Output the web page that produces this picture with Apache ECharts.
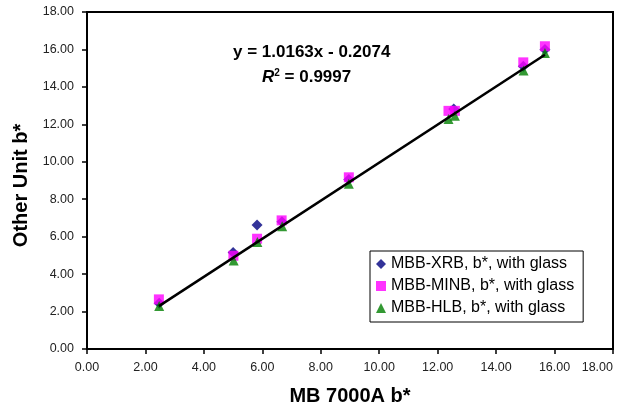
<!DOCTYPE html>
<html>
<head>
<meta charset="utf-8">
<script src="https://cdn.jsdelivr.net/npm/echarts@6/dist/echarts.min.js"></script>
<style>
  html, body { margin: 0; padding: 0; background: #fff; }
  #chart { width: 623px; height: 409px; }
</style>
</head>
<body>
<div id="chart"></div>
<script>
// [x, y] pairs
var xrb = [[2.47, 2.45], [5.00, 5.16], [5.82, 6.62], [6.67, 6.80], [8.96, 9.05], [12.55, 12.82], [14.93, 15.10], [15.67, 16.00]]
var minb = [[2.46, 2.65], [5.01, 4.98], [5.82, 5.89], [6.66, 6.87], [8.96, 9.17], [12.37, 12.72], [12.59, 12.72], [14.93, 15.31], [15.67, 16.17]]
var hlb = [[2.47, 2.30], [5.02, 4.73], [5.83, 5.72], [6.68, 6.55], [8.96, 8.83], [12.37, 12.29], [12.59, 12.46], [14.94, 14.88], [15.67, 15.81]]
var trend = [[2.46, 2.29], [15.67, 15.72]]
var names = ['MBB-XRB, b*, with glass', 'MBB-MINB, b*, with glass', 'MBB-HLB, b*, with glass']

var myChart = echarts.init(document.getElementById('chart'))

var axisCommon = {
    type: 'value',
    min: 0,
    max: 18,
    interval: 2,
    axisLine: { show: true, onZero: false, lineStyle: { color: '#000', width: 2 } },
    axisTick: { show: true, inside: false, length: 5, lineStyle: { color: '#000', width: 1.5 } },
    splitLine: { show: false },
    axisLabel: {
        fontFamily: 'Arial, sans-serif',
        fontSize: 12.5,
        color: '#222',
        formatter: function (v) { return v.toFixed(2) }
    },
    nameTextStyle: { fontFamily: 'Arial, sans-serif', fontWeight: 'bold', fontSize: 20, color: '#000' }
}

var option = {
    backgroundColor: '#fff',
    animation: false,
    grid: {
        left: 87, right: 10, top: 12, bottom: 60,
        outerBoundsMode: 'none',
        containLabel: false,
        show: true, borderColor: '#000', borderWidth: 2
    },
    xAxis: Object.assign({}, axisCommon, {
        name: 'MB 7000A b*',
        nameLocation: 'middle',
        nameGap: 37,
        axisLabel: Object.assign({}, axisCommon.axisLabel, { margin: 12, alignMaxLabel: 'right' })
    }),
    yAxis: Object.assign({}, axisCommon, {
        name: 'Other Unit b*',
        nameLocation: 'middle',
        nameGap: 56,
        nameTextStyle: Object.assign({}, axisCommon.nameTextStyle, { padding: [0, 10, 0, 0] }),
        axisLabel: Object.assign({}, axisCommon.axisLabel, { margin: 13 })
    }),
    legend: {
        orient: 'vertical',
        left: 370,
        top: 251,
        backgroundColor: '#fff',
        borderColor: '#000',
        borderWidth: 1,
        borderRadius: 0,
        padding: [5, 9, 6, 6],
        itemWidth: 10,
        itemHeight: 10,
        itemGap: 6,
        textStyle: { fontFamily: 'Arial, sans-serif', fontSize: 16, color: '#000' },
        data: names
    },
    graphic: [
        {
            type: 'text', left: 233, top: 44,
            style: { text: 'y = 1.0163x - 0.2074', font: 'bold 17px Arial, sans-serif', fill: '#000' }
        },
        {
            type: 'text', left: 262, top: 68,
            style: {
                text: '{i|R}{s|2}{n| = 0.9997}',
                rich: {
                    i: { font: 'italic bold 17px Arial, sans-serif', fill: '#000' },
                    s: { font: 'bold 10px Arial, sans-serif', fill: '#000', verticalAlign: 'top', padding: [0, 0, 9, 0] },
                    n: { font: 'bold 17px Arial, sans-serif', fill: '#000' }
                }
            }
        }
    ],
    series: [
        {
            name: names[0], type: 'scatter', symbol: 'diamond', symbolSize: 11,
            itemStyle: { color: '#000080' }, data: xrb, z: 2
        },
        {
            name: names[1], type: 'scatter', symbol: 'rect', symbolSize: 10,
            itemStyle: { color: '#ff00ff' }, data: minb, z: 3
        },
        {
            name: names[2], type: 'scatter', symbol: 'triangle', symbolSize: 10,
            itemStyle: { color: '#008000' }, data: hlb, z: 4
        },
        {
            name: 'trend', type: 'line', data: trend, showSymbol: false, symbol: 'none',
            lineStyle: { color: '#000', width: 2.5 }, z: 5, silent: true
        }
    ]
}
myChart.setOption(option);
</script>
</body>
</html>
